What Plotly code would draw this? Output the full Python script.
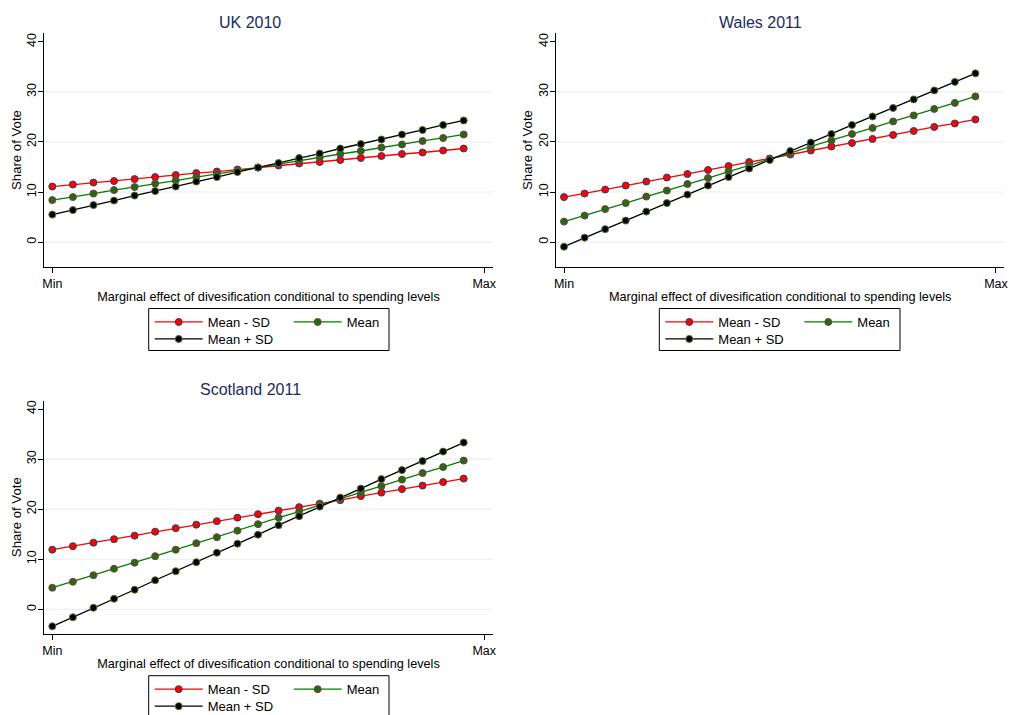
import plotly.graph_objects as go

# ---------------- data ----------------
steps = [0, 1, 2, 3, 4, 5, 6, 7, 8, 9, 10, 11, 12, 13, 14, 15, 16, 17, 18, 19, 20]
x_tick_vals = [0, 21]
x_tick_text = ["Min", "Max"]
y_tick_vals = [0, 10, 20, 30, 40]
grid_vals = [0, 10, 20, 30]

series_names = ["Mean - SD", "Mean", "Mean + SD"]
panel_titles = ["UK 2010", "Wales 2011", "Scotland 2011"]
x_title = "Marginal effect of divesification conditional to spending levels"
y_title = "Share of Vote"

uk_minus = [11.1, 11.5, 11.9, 12.2, 12.6, 13.0, 13.4, 13.8, 14.1, 14.5, 14.9,
            15.3, 15.7, 16.0, 16.4, 16.8, 17.2, 17.6, 17.9, 18.3, 18.7]
uk_mean = [8.4, 9.0, 9.7, 10.4, 11.0, 11.7, 12.3, 13.0, 13.6, 14.3, 14.9,
           15.6, 16.3, 16.9, 17.6, 18.2, 18.9, 19.5, 20.2, 20.8, 21.5]
uk_plus = [5.5, 6.4, 7.4, 8.3, 9.3, 10.2, 11.1, 12.1, 13.0, 14.0, 14.9,
           15.8, 16.8, 17.7, 18.7, 19.6, 20.5, 21.5, 22.4, 23.4, 24.3]

wales_minus = [9.0, 9.7, 10.5, 11.3, 12.1, 12.9, 13.6, 14.4, 15.2, 16.0, 16.7,
               17.5, 18.3, 19.1, 19.8, 20.6, 21.4, 22.2, 23.0, 23.7, 24.5]
wales_mean = [4.1, 5.3, 6.6, 7.8, 9.1, 10.3, 11.6, 12.8, 14.1, 15.3, 16.6,
              17.8, 19.1, 20.3, 21.6, 22.8, 24.1, 25.3, 26.6, 27.8, 29.1]
wales_plus = [-0.9, 0.9, 2.6, 4.3, 6.1, 7.8, 9.5, 11.3, 13.0, 14.7, 16.4,
              18.2, 19.9, 21.6, 23.4, 25.1, 26.8, 28.5, 30.3, 32.0, 33.7]

scot_minus = [11.9, 12.6, 13.3, 14.0, 14.7, 15.5, 16.2, 16.9, 17.6, 18.3, 19.0,
              19.7, 20.4, 21.1, 21.8, 22.6, 23.3, 24.0, 24.7, 25.4, 26.1]
scot_mean = [4.3, 5.5, 6.8, 8.1, 9.3, 10.6, 11.9, 13.2, 14.4, 15.7, 17.0,
             18.3, 19.5, 20.8, 22.1, 23.3, 24.6, 25.9, 27.2, 28.4, 29.7]
scot_plus = [-3.4, -1.6, 0.3, 2.1, 3.9, 5.8, 7.6, 9.4, 11.3, 13.1, 14.9,
             16.8, 18.6, 20.5, 22.3, 24.1, 26.0, 27.8, 29.6, 31.5, 33.3]

panel_series = [
    [uk_minus, uk_mean, uk_plus],
    [wales_minus, wales_mean, wales_plus],
    [scot_minus, scot_mean, scot_plus],
]

# ---------------- style ----------------
W, H = 1009, 715
FONT = "Liberation Sans, Arial, Helvetica, sans-serif"
TITLE_COLOR = "#1c2b5a"
GRID_COLOR = "#e4edf0"
line_colors = ["#ff0000", "#008000", "#000000"]
marker_fill = ["#ff0000", "#1a6e1a", "#000000"]
marker_edge = ["#1a476f", "#90353b", "#55752f"]

def px_x(p):
    return p / W

def px_y(p):
    return 1 - p / H

# plot-area boxes in pixels: (left, right, top, bottom)
boxes = [
    (44.3, 492.7, 33.3, 266.7),
    (556.0, 1004.4, 33.3, 266.7),
    (44.3, 492.7, 400.5, 633.8),
]
title_pos = [(250, 22), (760, 22), (250, 390)]
ytitle_x = [16, 527, 16]
legend_box = [(148.7, 389, 308.5, 350.5), (659.3, 900, 308.5, 350.5), (148.7, 389, 675.7, 717.5)]

x_range = [-0.39, 21.41]
y_range = [-4.9, 41.7]

fig = go.Figure()
layout = dict(
    width=W, height=H,
    margin=dict(l=0, r=0, t=0, b=0, autoexpand=False),
    paper_bgcolor="white", plot_bgcolor="white",
    font=dict(family=FONT, size=12, color="black"),
    showlegend=True,
)
annotations = []
shapes = []

for i, (series, title) in enumerate(zip(panel_series, panel_titles)):
    n = i + 1
    xa = "x" if n == 1 else f"x{n}"
    ya = "y" if n == 1 else f"y{n}"
    l, r, t, b = boxes[i]
    layout["xaxis" if n == 1 else f"xaxis{n}"] = dict(
        domain=[px_x(l), px_x(r)], anchor=ya, range=x_range,
        tickvals=x_tick_vals, ticktext=x_tick_text,
        ticks="outside", ticklen=5, tickcolor="black", tickwidth=1,
        showline=True, linecolor="black", linewidth=1,
        showgrid=False, zeroline=False, automargin=False,
        tickfont=dict(size=12.5, family=FONT, color="black"),
        title=dict(text=x_title,
                   font=dict(size=12.7, family=FONT, color="black"), standoff=2),
    )
    layout["yaxis" if n == 1 else f"yaxis{n}"] = dict(
        domain=[px_y(b), px_y(t)], anchor=xa, range=y_range,
        tickvals=y_tick_vals, tickangle=-90,
        ticks="outside", ticklen=5, tickcolor="black", tickwidth=1,
        showline=True, linecolor="black", linewidth=1,
        showgrid=False, zeroline=False, automargin=False,
        tickfont=dict(size=12.5, family=FONT, color="black"),
        ticklabelstandoff=-3,
    )
    for g in grid_vals:
        shapes.append(dict(type="line", xref=f"{xa} domain", yref=ya,
                           x0=0, x1=1, y0=g, y1=g, layer="below",
                           line=dict(color=GRID_COLOR, width=1)))

    tx, ty = title_pos[i]
    annotations.append(dict(text=title, x=px_x(tx), y=px_y(ty), xref="paper", yref="paper",
                            xanchor="center", yanchor="middle", showarrow=False,
                            font=dict(size=16, family=FONT, color=TITLE_COLOR)))
    annotations.append(dict(text=y_title, x=px_x(ytitle_x[i]), y=px_y((t + b) / 2),
                            xref="paper", yref="paper", textangle=-90,
                            xanchor="center", yanchor="middle", showarrow=False,
                            font=dict(size=13.2, family=FONT, color="black")))

    bl, br, bt, bb = legend_box[i]
    shapes.append(dict(type="rect", xref="paper", yref="paper",
                       x0=px_x(bl), x1=px_x(br), y0=px_y(bb), y1=px_y(bt),
                       line=dict(color="black", width=1), fillcolor="rgba(0,0,0,0)"))

    leg1 = f"legend{2 * i + 1}" if i > 0 else "legend"
    leg2 = f"legend{2 * i + 2}"
    for k, vals in enumerate(series):
        fig.add_trace(go.Scatter(
            x=steps, y=vals, mode="lines+markers", name=series_names[k],
            xaxis=xa, yaxis=ya,
            line=dict(color=line_colors[k], width=1.3),
            marker=dict(size=7, color=marker_fill[k], line=dict(color=marker_edge[k], width=1)),
            legend=leg1 if k < 2 else leg2,
            showlegend=True,
        ))
    common = dict(orientation="h", bgcolor="rgba(0,0,0,0)", borderwidth=0,
                  font=dict(size=13, family=FONT, color="black"),
                  xanchor="left", yanchor="middle", itemwidth=48,
                  entrywidth=76, entrywidthmode="pixels", tracegroupgap=0)
    layout[leg1] = dict(common, x=px_x(bl + 1), y=px_y(bt + 13.5))
    layout[leg2] = dict(common, x=px_x(bl + 1), y=px_y(bt + 30.5))

layout["annotations"] = annotations
layout["shapes"] = shapes
fig.update_layout(**layout)
fig.write_html("out.html", config={"displayModeBar": False},
               post_script="document.body.style.margin='0';document.body.style.overflow='hidden';")
